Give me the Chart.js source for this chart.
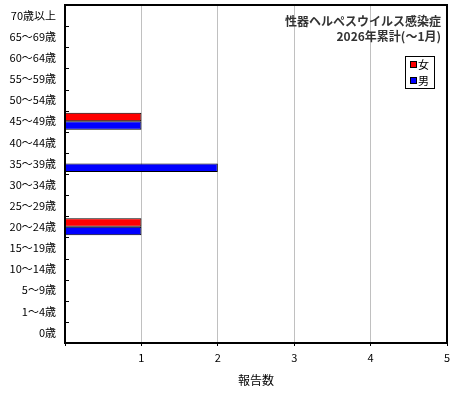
<!DOCTYPE html>
<html>
<head>
<meta charset="utf-8">
<script src="https://cdn.jsdelivr.net/npm/chart.js@4/dist/chart.umd.min.js"></script>
<style>
  body { margin: 0; background: #fff; }
</style>
</head>
<body>
<canvas id="chart" width="460" height="400"></canvas>
<script>
// age groups, top to bottom as in the picture
const ageLabels = ['70歳以上', '65～69歳', '60～64歳', '55～59歳', '50～54歳', '45～49歳', '40～44歳',
    '35～39歳', '30～34歳', '25～29歳', '20～24歳', '15～19歳', '10～14歳', '5～9歳', '1～4歳', '0歳'];
const femaleCounts = [0, 0, 0, 0, 0, 1, 0, 0, 0, 0, 1, 0, 0, 0, 0, 0];
const maleCounts   = [0, 0, 0, 0, 0, 1, 0, 2, 0, 0, 1, 0, 0, 0, 0, 0];
const titleLines = ['性器ヘルペスウイルス感染症', '2026年累計(～1月)'];
const xTitle = '報告数';

const FONT = '"Noto Sans CJK JP", sans-serif';

// frame, inner ticks on category axis, title and legend inside plot
const decorations = {
    id: 'decorations',
    afterDraw(chart) {
        let ctx = chart.ctx;
        let area = chart.chartArea;
        let yScale = chart.scales.y;
        ctx.save();

        // small ticks at category boundaries
        ctx.strokeStyle = '#000';
        ctx.lineWidth = 1;
        let half = (yScale.getPixelForValue(1) - yScale.getPixelForValue(0)) / 2;
        for (let i = 0; i < ageLabels.length - 1; i++) {
            let y = Math.round(yScale.getPixelForValue(i) + half) + 0.5;
            ctx.beginPath();
            ctx.moveTo(area.left, y);
            ctx.lineTo(area.left + 4, y);
            ctx.stroke();
        }

        // plot frame
        ctx.lineWidth = 2;
        ctx.strokeRect(area.left, area.top, area.right - area.left, area.bottom - area.top);

        // title
        ctx.fillStyle = '#333';
        ctx.font = 'bold 12px ' + FONT;
        ctx.textAlign = 'right';
        ctx.textBaseline = 'middle';
        ctx.fillText(titleLines[0], area.right - 6, area.top + 16);
        ctx.fillText(titleLines[1], area.right - 6, area.top + 31);

        // legend
        let bx = area.right - 42, by = area.top + 51;
        ctx.lineWidth = 1;
        ctx.strokeStyle = '#000';
        ctx.strokeRect(bx + 0.5, by + 0.5, 29, 32);
        ctx.font = '11px ' + FONT;
        ctx.textAlign = 'left';
        ctx.fillStyle = '#000';
        chart.data.datasets.forEach(function(ds, i) {
            let y = by + 9 + i * 16;
            ctx.fillStyle = ds.backgroundColor;
            ctx.fillRect(bx + 6, y - 3, 5, 5);
            ctx.strokeStyle = '#000';
            ctx.strokeRect(bx + 5.5, y - 3.5, 6, 6);
            ctx.fillStyle = '#000';
            ctx.fillText(ds.label, bx + 13, y);
        });
        ctx.restore();
    }
};

let ctx = document.getElementById('chart').getContext('2d');
let chart = new Chart(ctx, {
    type: 'bar',
    data: {
        labels: ageLabels,
        datasets: [{
            label: '女',
            data: femaleCounts,
            backgroundColor: '#ff0000',
            borderColor: '#000',
            borderWidth: 1
        },
        {
            label: '男',
            data: maleCounts,
            backgroundColor: '#0000ff',
            borderColor: '#000',
            borderWidth: 1
        }]
    },
    options: {
        indexAxis: 'y',
        responsive: false,
        animation: false,
        categoryPercentage: 0.8,
        barPercentage: 1,
        layout: {padding: {top: 5, right: 13, left: 0, bottom: 0}},
        scales: {
            x: {
                min: 0,
                max: 5,
                grid: {color: '#c0c0c0', lineWidth: 1, tickLength: 3, tickColor: '#000'},
                border: {display: false},
                ticks: {
                    stepSize: 1,
                    padding: 5,
                    color: '#000',
                    font: {family: FONT, size: 11},
                    callback: function(value){
                        return value === 0 ? '' : value;
                    }
                },
                title: {
                    display: true,
                    text: xTitle,
                    color: '#000',
                    font: {family: FONT, size: 12},
                    padding: {top: 4, bottom: 12}
                },
                afterFit: function(scale){ scale.height = 57; }
            },
            y: {
                grid: {display: false, drawTicks: false},
                border: {display: false},
                ticks: {
                    padding: 9,
                    color: '#000',
                    font: {family: FONT, size: 11}
                },
                afterFit: function(scale){
                    scale.width = 65;
                    scale.paddingTop = 0;
                    scale.paddingBottom = 0;
                }
            }
        },
        plugins: {
            legend: {display: false},
            tooltip: {enabled: false}
        }
    },
    plugins: [decorations]
});
</script>
</body>
</html>
